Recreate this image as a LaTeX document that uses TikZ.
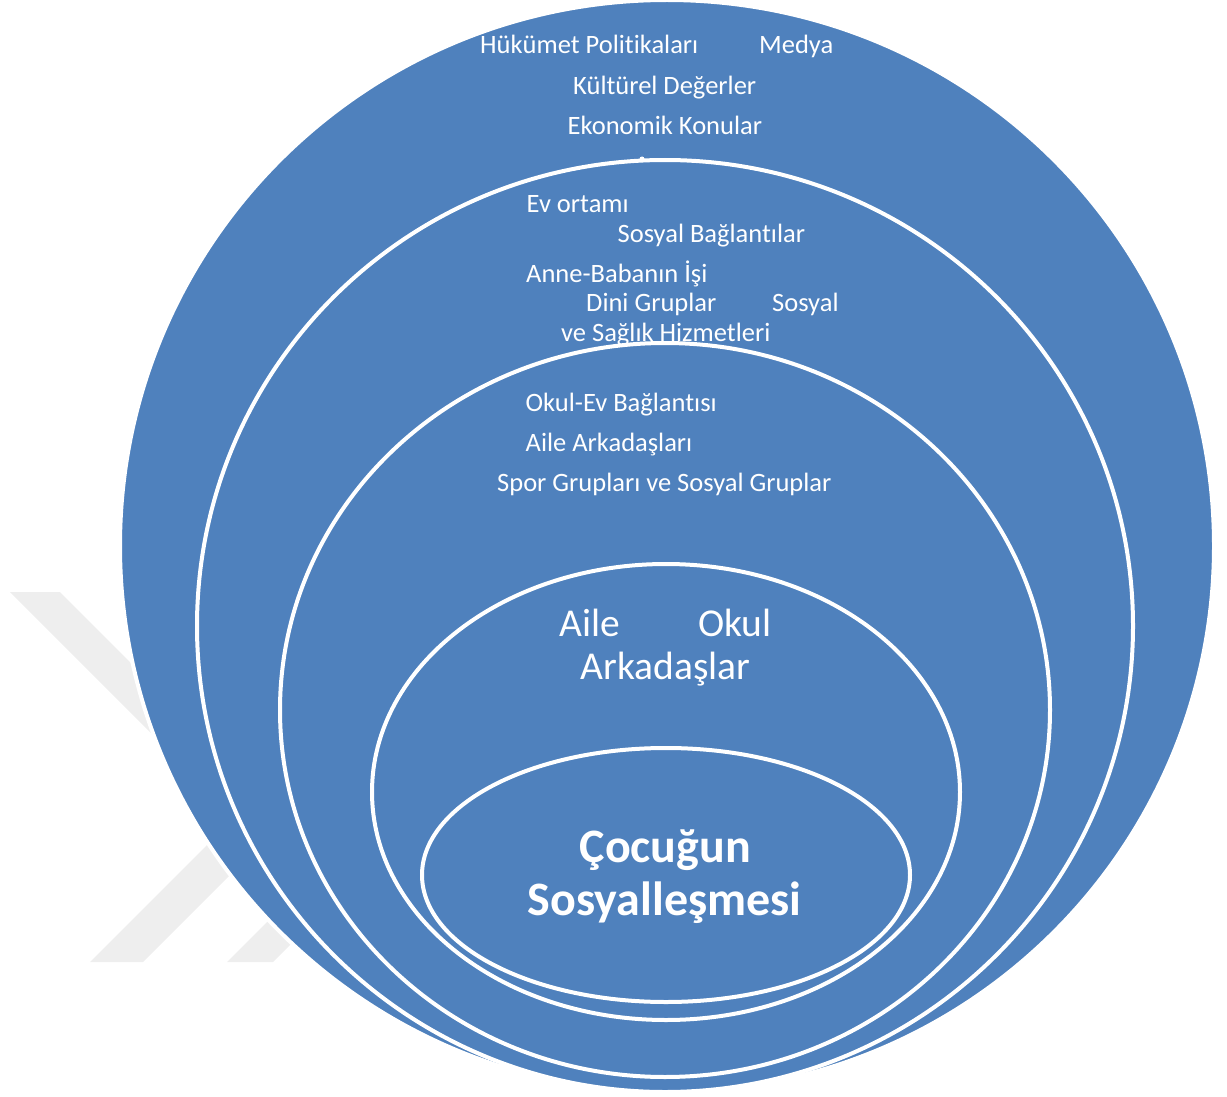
\documentclass[tikz,border=0pt]{standalone}
\usepackage{fontspec}
\setmainfont{Carlito}[Ligatures=NoCommon]
\definecolor{ringblue}{HTML}{4F81BD}
\definecolor{wmgray}{HTML}{EEEEEE}
\begin{document}
\begin{tikzpicture}[x=1pt,y=-1pt,
  ring/.style={fill=ringblue, draw=white, line width=4pt},
  wm/.style={fill=wmgray, draw=none},
  lbl/.style={text=white, anchor=base west, inner sep=0pt, font=\fontsize{26.5}{30}\selectfont},
  mid/.style={text=white, anchor=base west, inner sep=0pt, font=\fontsize{39.5}{44}\selectfont},
  big/.style={text=white, anchor=base west, inner sep=0pt, font=\bfseries\fontsize{48}{52}\selectfont}]
\useasboundingbox (0,0) rectangle (1227,1097);
% faint watermark
\path[wm] (10,592) -- (60,592) -- (430,962) -- (380,962) -- cycle;
\path[wm] (90,962) -- (143,962) -- (343,762) -- (290,762) -- cycle;
\path[wm] (227,962) -- (273,962) -- (373,862) -- (327,862) -- cycle;
% nested ellipses
\path[ring] (667,546) ellipse [x radius=547, y radius=546];
\path[ring] (665,626) ellipse [x radius=468, y radius=466];
\fill[white] (642,159) circle (2.5);
\path[ring] (665,710) ellipse [x radius=385, y radius=367];
\path[ring] (666,792) ellipse [x radius=294, y radius=228];
\path[ring] (666,875) ellipse [x radius=244, y radius=127];
% outer ring labels
\node[lbl] (hp) at (480,54) {Hükümet Politikaları};
\node[lbl] (md) at (759,54) {Medya};
\node[lbl] (kd) at (573,94.5) {Kültürel Değerler};
\node[lbl] (ek) at (567.5,135) {Ekonomik Konular};
% second ring labels
\node[lbl] (eo) at (526.5,212.5) {Ev ortamı};
\node[lbl] (sb) at (617.5,242) {Sosyal Bağlantılar};
\node[lbl] (ab) at (526,282) {Anne-Babanın İşi};
\node[lbl] (dg) at (586,311.5) {Dini Gruplar};
\node[lbl] (so) at (772,311.5) {Sosyal};
\node[lbl] (vs) at (561,341) {ve Sağlık Hizmetleri};
% third ring labels
\node[lbl] (oe) at (525.5,411.5) {Okul-Ev Bağlantısı};
\node[lbl] (aa) at (525.5,451.5) {Aile Arkadaşları};
\node[lbl] (sg) at (497,491) {Spor Grupları ve Sosyal Gruplar};
% fourth ring labels
\node[mid] (ai) at (559,636.5) {Aile};
\node[mid] (ok) at (698,636.5) {Okul};
\node[mid] (ar) at (580.5,679.5) {Arkadaşlar};
% centre
\node[big] (cc) at (579.5,862) {Çocuğun};
\node[big] (ss) at (527.5,915) {Sosyalleşmesi};
\end{tikzpicture}
\end{document}
